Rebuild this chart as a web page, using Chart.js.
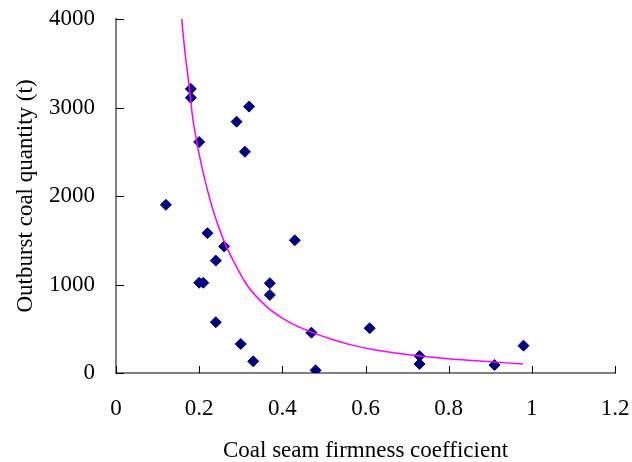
<!DOCTYPE html>
<html>
<head>
<meta charset="utf-8">
<script src="https://cdn.jsdelivr.net/npm/chart.js@4"></script>
<style>
  html, body { margin: 0; padding: 0; background: #fff; }
  #wrap { width: 632px; height: 462px; }
</style>
</head>
<body>
<div id="wrap"><canvas id="scatterChart" width="632" height="462"></canvas></div>
<script>
// measured points: firmness coefficient vs outburst coal quantity
const firmness = [0.18, 0.18, 0.20, 0.32, 0.29, 0.31, 0.12, 0.22, 0.26, 0.24,
                  0.20, 0.21, 0.24, 0.30, 0.33, 0.48, 0.37, 0.37, 0.43, 0.47,
                  0.61, 0.73, 0.73, 0.91, 0.98];
const coalQty = [3210, 3110, 2610, 3010, 2840, 2500, 1900, 1580, 1430, 1270,
                 1020, 1020, 574, 328, 132, 30, 1015, 882, 1500, 456,
                 506, 192, 102, 90, 309];

// trend curve
const curveX = [0.158, 0.166, 0.176, 0.184, 0.200, 0.214, 0.226, 0.238, 0.258, 0.282,
                0.314, 0.362, 0.402, 0.442, 0.522, 0.570, 0.618, 0.699, 0.779, 0.859, 0.979];
const curveY = [4000, 3617, 3239, 2900, 2470, 2180, 1960, 1770, 1510, 1270,
                1000, 750, 615, 515, 375, 312, 266, 210, 170, 140, 102];

const xTicks = [0, 0.2, 0.4, 0.6, 0.8, 1, 1.2];
const yTicks = [0, 1000, 2000, 3000, 4000];

const serif = "'Liberation Serif', 'Times New Roman', serif";

// tick marks pointing into the plot area
const innerTicks = {
    id: 'innerTicks',
    afterDatasetsDraw(chart) {
        const ctx = chart.ctx;
        const xs = chart.scales.x, ys = chart.scales.y;
        ctx.save();
        ctx.strokeStyle = '#000';
        ctx.lineWidth = 1;
        ctx.beginPath();
        xTicks.forEach(v => {
            const px = Math.round(xs.getPixelForValue(v)) + 0.5;
            ctx.moveTo(px, ys.bottom);
            ctx.lineTo(px, ys.bottom - 7);
        });
        yTicks.forEach(v => {
            const py = Math.round(ys.getPixelForValue(v)) + 0.5;
            ctx.moveTo(xs.left, py);
            ctx.lineTo(xs.left + 8, py);
        });
        ctx.stroke();
        ctx.restore();
    }
};

function noEdgePadding(s) {
    s.paddingLeft = 0;
    s.paddingRight = 0;
    s.paddingTop = 0;
    s.paddingBottom = 0;
}

function initializeChart() {
    const ctx = document.getElementById('scatterChart').getContext('2d');
    return new Chart(ctx, {
        type: 'scatter',
        data: {
            datasets: [{
                label: 'Trend',
                data: curveX.map((x, i) => ({ x: x, y: curveY[i] })),
                showLine: true,
                borderColor: '#FF00FF',
                borderWidth: 1.5,
                pointRadius: 0,
                cubicInterpolationMode: 'monotone',
                order: 0
            }, {
                label: 'Outburst',
                data: firmness.map((x, i) => ({ x: x, y: coalQty[i] })),
                pointStyle: 'rectRot',
                pointRadius: 5.5,
                backgroundColor: '#000080',
                borderColor: '#000080',
                borderWidth: 1,
                order: 1
            }]
        },
        options: {
            responsive: false,
            animation: false,
            layout: { padding: { left: 0, right: 17, top: 19, bottom: 0 } },
            plugins: {
                legend: { display: false },
                tooltip: { enabled: false }
            },
            scales: {
                x: {
                    type: 'linear',
                    min: 0,
                    max: 1.2,
                    afterFit: s => { s.height = 89; noEdgePadding(s); },
                    afterBuildTicks: s => { s.ticks = xTicks.map(v => ({ value: v })); },
                    grid: { display: false, drawTicks: false },
                    border: { display: true, color: '#808080', width: 2 },
                    ticks: {
                        padding: 22,
                        color: '#000',
                        font: { family: serif, size: 23, lineHeight: 1.2 },
                        maxRotation: 0,
                        callback: v => String(v)
                    },
                    title: {
                        display: true,
                        text: 'Coal seam firmness coefficient',
                        color: '#000',
                        font: { family: serif, size: 23, lineHeight: 1 },
                        padding: { top: 0, bottom: 0 }
                    }
                },
                y: {
                    type: 'linear',
                    min: 0,
                    max: 4000,
                    afterFit: s => { s.width = 116; noEdgePadding(s); },
                    afterBuildTicks: s => { s.ticks = yTicks.map(v => ({ value: v })); },
                    grid: { display: false, drawTicks: false },
                    border: { display: true, color: '#808080', width: 2 },
                    ticks: {
                        padding: 21,
                        color: '#000',
                        font: { family: serif, size: 23 },
                        callback: v => String(v)
                    },
                    title: {
                        display: true,
                        text: 'Outburst coal quantity (t)',
                        color: '#000',
                        font: { family: serif, size: 23, lineHeight: 1 },
                        padding: { top: 14, bottom: 0 }
                    }
                }
            }
        },
        plugins: [innerTicks]
    });
}

window.onload = () => {
    initializeChart();
};
</script>
</body>
</html>
